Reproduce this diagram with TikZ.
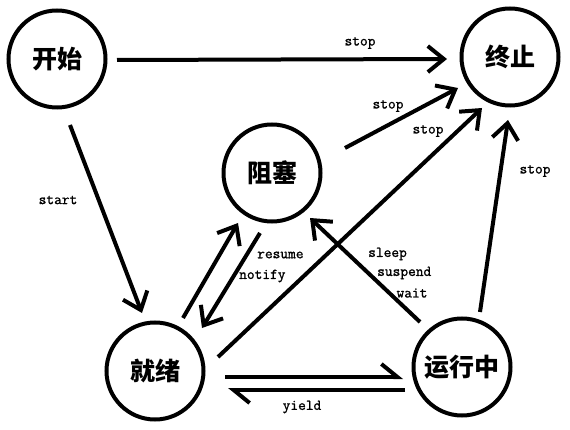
\documentclass[tikz,border=0pt]{standalone}
\usepackage{fontspec}
\newfontfamily\cjk{Noto Sans CJK SC}
\newfontfamily\lblfont{Latin Modern Mono}[FakeBold=1.2]
\usetikzlibrary{arrows.meta,calc}
\tikzset{
  state/.style={circle,draw,line width=4pt,minimum size=97pt,inner sep=0pt,
    font=\cjk\bfseries\fontsize{25}{25}\selectfont},
  conn/.style={line width=4pt,-{Straight Barb[length=16pt,width=26pt]}},
  halfconn/.style={line width=4pt,-{Straight Barb[length=16pt,width=26pt,harpoon]}},
  lbl/.style={font=\lblfont\fontsize{15}{15}\selectfont,inner sep=0pt}
}
\begin{document}
\begin{tikzpicture}[x=1pt,y=-1pt]
\useasboundingbox (0,0) rectangle (570,430);
\node[state] (S) at (57,59) {开始};
\node[state] (E) at (510,57) {终止};
\node[state] (B) at (272,173) {阻塞};
\node[state] (R) at (155,371) {就绪};
\node[state] (U) at (462,367) {运行中};

\draw[conn] ($(S)+(60,1)$) -- ($(E)+(-63,2)$);
\draw[conn] ($(S)+(13,66)$) -- ($(R)+(-13,-58)$);
\draw[conn] ($(B)+(73,-25)$) -- ($(E)+(-52,31)$);
\draw[conn] ($(R)+(63,-14)$) -- ($(E)+(-28,51)$);
\draw[conn] ($(U)+(18,-55)$) -- ($(E)+(-2,63)$);
\draw[conn] ($(R)+(28,-53)$) -- ($(B)+(-34,50)$);
\draw[conn] ($(B)+(-12,60)$) -- ($(R)+(47,-43)$);
\draw[conn] ($(U)+(-42,-45)$) -- ($(B)+(38,45)$);
\draw[halfconn] ($(R)+(70,6)$) -- ($(U)+(-59,10)$);
\draw[halfconn] ($(U)+(-57,23)$) -- ($(R)+(73,19)$);

\node[lbl] at (360,43) {stop};
\node[lbl] at (388,106) {stop};
\node[lbl] at (428,131) {stop};
\node[lbl] at (535,171) {stop};
\node[lbl] at (58,200) {start};
\node[lbl,anchor=west] at (257,255) {resume};
\node[lbl,anchor=west] at (239,276) {notify};
\node[lbl,anchor=west] at (368,254) {sleep};
\node[lbl,anchor=west] at (377,273) {suspend};
\node[lbl] at (412,293) {wait};
\node[lbl] at (302,407) {yield};
\end{tikzpicture}
\end{document}
